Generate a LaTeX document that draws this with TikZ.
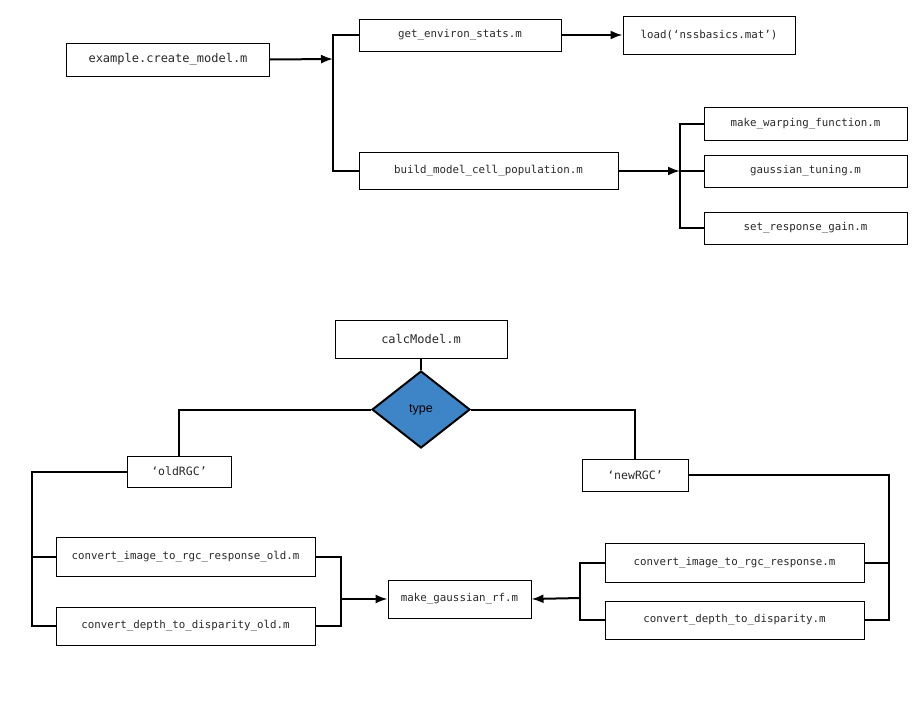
\documentclass[tikz,border=0pt]{standalone}
\usepackage{fontspec}
\usepackage{tikz}
\usetikzlibrary{shapes.geometric,arrows.meta}
\newfontfamily\codefont{DejaVu Sans Mono}
\newfontfamily\labelfont{Liberation Sans}
\definecolor{typeblue}{RGB}{61,133,198}
\definecolor{codegray}{RGB}{40,40,40}

\tikzset{
  fbox/.style={draw, line width=1pt, inner sep=0pt, text=codegray,
    font=\codefont\fontsize{10.8}{13}\selectfont},
  bigtext/.style={font=\codefont\fontsize{12}{14}\selectfont},
  quotetext/.style={font=\codefont\fontsize{11.5}{14}\selectfont},
  link/.style={line width=2pt},
  arrow/.style={line width=2pt, -{Latex[length=12pt,width=9pt]}}
}

\begin{document}
\begin{tikzpicture}[x=1pt,y=-1pt]
\useasboundingbox (0,0) rectangle (915,712);

\node[fbox, bigtext, minimum width=203pt, minimum height=33pt] (create) at (168,59.5) {example.create\_model.m};
\node[fbox, minimum width=202pt, minimum height=32pt] (env) at (460,35) {get\_environ\_stats.m};
\node[fbox, minimum width=172pt, minimum height=38pt] (load) at (709,35) {load(‘nssbasics.mat’)};
\node[fbox, minimum width=259pt, minimum height=37pt] (build) at (488.5,171) {build\_model\_cell\_population.m};
\node[fbox, minimum width=203pt, minimum height=33pt] (warp) at (805.5,124) {make\_warping\_function.m};
\node[fbox, minimum width=203pt, minimum height=32pt] (tuning) at (805.5,171) {gaussian\_tuning.m};
\node[fbox, minimum width=203pt, minimum height=32pt] (gain) at (805.5,228) {set\_response\_gain.m};

\coordinate (createjoin) at (333,59);
\coordinate (buildjoin) at (680,171);
\draw[arrow] (create.east) -- (createjoin);
\draw[link] (env.west) -| (createjoin) |- (build.west);
\draw[arrow] (env.east) -- (load.west);
\draw[arrow] (build.east) -- (buildjoin);
\draw[link] (warp.west) -| (buildjoin) |- (gain.west);
\draw[link] (buildjoin) -- (tuning.west);

\node[fbox, bigtext, minimum width=172pt, minimum height=38pt] (calc) at (421,339) {calcModel.m};
\node[diamond, draw, line width=2pt, fill=typeblue, inner sep=0pt, aspect=1.27,
      minimum width=98pt, minimum height=77pt, font=\labelfont\fontsize{12.5}{14}\selectfont] (type) at (421,409.5) {type};
\node[fbox, quotetext, minimum width=104pt, minimum height=31pt] (old) at (179,471.5) {‘oldRGC’};
\node[fbox, quotetext, minimum width=106pt, minimum height=32pt] (new) at (635,475) {‘newRGC’};
\node[fbox, minimum width=259pt, minimum height=39pt] (imgold) at (185.5,556.5) {convert\_image\_to\_rgc\_response\_old.m};
\node[fbox, minimum width=259pt, minimum height=38pt] (depthold) at (185.5,626) {convert\_depth\_to\_disparity\_old.m};
\node[fbox, minimum width=143pt, minimum height=38pt] (gauss) at (459.5,599) {make\_gaussian\_rf.m};
\node[fbox, minimum width=259pt, minimum height=39pt] (img) at (734.5,562.5) {convert\_image\_to\_rgc\_response.m};
\node[fbox, minimum width=259pt, minimum height=38pt] (depth) at (734.5,620) {convert\_depth\_to\_disparity.m};

\coordinate (oldleft) at (32,556.5);
\coordinate (oldright) at (341,599);
\coordinate (newright) at (889,562.5);
\coordinate (newleft) at (580,598);
\draw[link] (calc.south) -- (type.north);
\draw[link] (type.west) -| (old.north);
\draw[link] (type.east) -| (new.north);
\draw[link] (old.west) -| (oldleft) |- (depthold.west);
\draw[link] (oldleft) -- (imgold.west);
\draw[link] (imgold.east) -| (oldright) |- (depthold.east);
\draw[arrow] (oldright) -- (gauss.west);
\draw[link] (new.east) -| (newright) |- (depth.east);
\draw[link] (newright) -- (img.east);
\draw[link] (img.west) -| (newleft) |- (depth.west);
\draw[arrow] (newleft) -- (gauss.east);
\end{tikzpicture}
\end{document}
